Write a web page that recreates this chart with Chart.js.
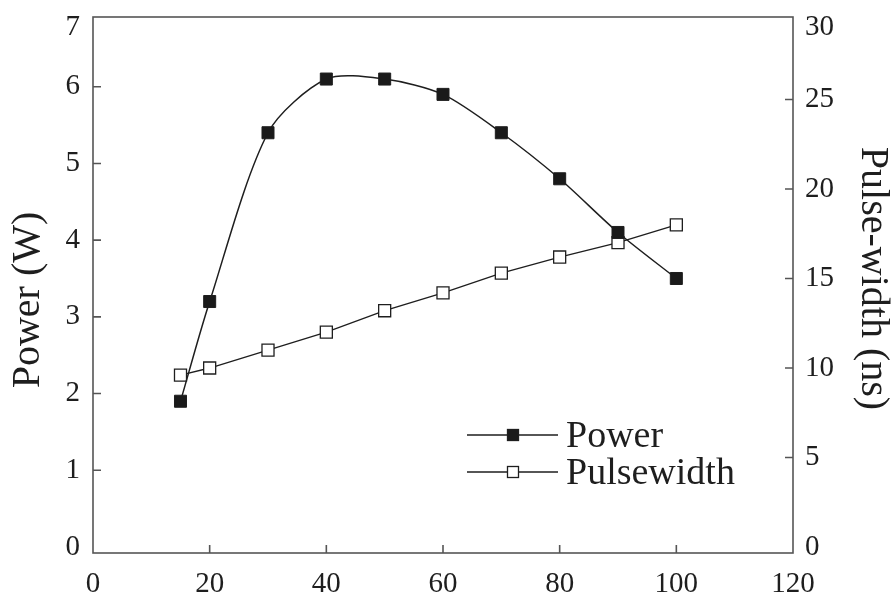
<!DOCTYPE html>
<html>
<head>
<meta charset="utf-8">
<script src="https://cdn.jsdelivr.net/npm/chart.js@4.4.0/dist/chart.umd.min.js"></script>
<style>
html,body{margin:0;padding:0;background:#fff;}
#wrap{width:893px;height:593px;}
</style>
</head>
<body>
<div id="wrap"><canvas id="c" width="893" height="593"></canvas></div>
<script>
const xValues = [15, 20, 30, 40, 50, 60, 70, 80, 90, 100];
const powerValues = [1.9, 3.2, 5.4, 6.1, 6.1, 5.9, 5.4, 4.8, 4.1, 3.5];
const pulseValues = [9.6, 10.0, 11.0, 12.0, 13.2, 14.2, 15.3, 16.2, 17.0, 18.0];
const xTicks = [0, 20, 40, 60, 80, 100, 120];
const leftTicks = [0, 1, 2, 3, 4, 5, 6, 7];
const rightTicks = [0, 5, 10, 15, 20, 25, 30];
const seriesLabels = ['Power', 'Pulsewidth'];
const axisTitles = ['Power (W)', 'Pulse-width (ns)'];

const INK = '#1e1e1e';
const FRAME = '#555555';
const FONT = "'Liberation Serif', 'Times New Roman', serif";
const BOX = { top: 17, bottom: 553 };

function toPoints(xs, ys){ return xs.map((x,i)=>({x:x, y:ys[i]})); }

// top-most label sits just below the frame corner, as in the original figure
function tickLabel(max){
  return function(v){ return v === max ? ['', String(v)] : String(v); };
}

const framePlugin = {
  id: 'frameTicks',
  afterDraw(chart){
    const ctx = chart.ctx, a = chart.chartArea;
    const top = BOX.top, bottom = BOX.bottom;
    ctx.save();
    ctx.strokeStyle = FRAME;
    ctx.lineWidth = 1.6;
    ctx.strokeRect(a.left, top, a.right - a.left, bottom - top);
    const len = 8;
    ctx.beginPath();
    const sx = chart.scales.x, sl = chart.scales.y, sr = chart.scales.y2;
    sx.ticks.forEach(t => { const p = sx.getPixelForValue(t.value); if (p > a.left + 2 && p < a.right - 2) { ctx.moveTo(p, bottom); ctx.lineTo(p, bottom - len); } });
    sl.ticks.forEach(t => { const p = sl.getPixelForValue(t.value); if (p > top + 2 && p < bottom - 8) { ctx.moveTo(a.left, p); ctx.lineTo(a.left + len, p); } });
    sr.ticks.forEach(t => { const p = sr.getPixelForValue(t.value); if (p > top + 2 && p < bottom - 8) { ctx.moveTo(a.right, p); ctx.lineTo(a.right - len, p); } });
    ctx.stroke();

    // left axis title
    ctx.fillStyle = INK;
    ctx.font = "40px " + FONT;
    ctx.textAlign = 'center';
    ctx.textBaseline = 'middle';
    ctx.translate(28, 300);
    ctx.rotate(-Math.PI / 2);
    ctx.fillText(axisTitles[0], 0, 0);
    ctx.setTransform(1, 0, 0, 1, 0, 0);

    // legend inside the plot
    const rows = [435, 472];
    chart.data.datasets.forEach((ds, i) => {
      const y = rows[i];
      ctx.strokeStyle = INK; ctx.lineWidth = 1.5;
      ctx.beginPath(); ctx.moveTo(467, y); ctx.lineTo(558, y); ctx.stroke();
      const s = 11;
      ctx.fillStyle = ds.pointBackgroundColor;
      ctx.fillRect(513 - s/2, y - s/2, s, s);
      ctx.strokeStyle = INK; ctx.lineWidth = 1.3;
      ctx.strokeRect(513 - s/2, y - s/2, s, s);
      ctx.fillStyle = INK;
      ctx.font = "38px " + FONT;
      ctx.textBaseline = 'alphabetic';
      ctx.textAlign = 'left';
      ctx.fillText(ds.label, 566, y + 12);
    });
    ctx.restore();
  }
};

function noPad(s){ s.paddingTop = 0; s.paddingBottom = 0; }

new Chart(document.getElementById('c'), {
  type: 'line',
  data: {
    datasets: [
      {
        label: seriesLabels[0],
        data: toPoints(xValues, powerValues),
        yAxisID: 'y',
        borderColor: INK,
        borderWidth: 1.5,
        tension: 0.28,
        pointStyle: 'rect',
        pointRadius: 8.5,
        pointBackgroundColor: '#1a1a1a',
        pointBorderColor: INK,
        pointBorderWidth: 1
      },
      {
        label: seriesLabels[1],
        data: toPoints(xValues, pulseValues),
        yAxisID: 'y2',
        borderColor: INK,
        borderWidth: 1.3,
        tension: 0,
        pointStyle: 'rect',
        pointRadius: 8.5,
        pointBackgroundColor: '#ffffff',
        pointBorderColor: INK,
        pointBorderWidth: 1.3
      }
    ]
  },
  options: {
    responsive: false,
    animation: false,
    layout: { padding: { top: 10, left: 0, right: 0, bottom: 0 } },
    plugins: { legend: { display: false }, tooltip: { enabled: false } },
    scales: {
      x: {
        type: 'linear', min: 0, max: 120,
        afterBuildTicks(s){ s.ticks = xTicks.map(v => ({value: v})); },
        afterFit(s){ s.height = 46; s.paddingLeft = 0; s.paddingRight = 0; },
        grid: { display: false, drawTicks: false },
        border: { display: false },
        ticks: { autoSkip: false, maxRotation: 0, padding: 20, color: INK, font: { family: FONT, size: 29 } }
      },
      y: {
        type: 'linear', position: 'left', min: 0, max: 7,
        afterBuildTicks(s){ s.ticks = leftTicks.map(v => ({value: v})); },
        afterFit(s){ s.width = 93; noPad(s); },
        grid: { display: false, drawTicks: false },
        border: { display: false },
        ticks: { padding: 13, color: INK, font: { family: FONT, size: 29 }, callback: tickLabel(7) },
        title: { display: false, text: axisTitles[0] }
      },
      y2: {
        type: 'linear', position: 'right', min: 0, max: 30,
        afterBuildTicks(s){ s.ticks = rightTicks.map(v => ({value: v})); },
        afterFit(s){ s.width = 100; noPad(s); },
        grid: { display: false, drawTicks: false },
        border: { display: false },
        ticks: { padding: 12, color: INK, font: { family: FONT, size: 29 }, callback: tickLabel(30) },
        title: { display: true, text: axisTitles[1], color: INK, padding: 1, font: { family: FONT, size: 40, lineHeight: 1 } }
      }
    }
  },
  plugins: [framePlugin]
});
</script>
</body>
</html>
